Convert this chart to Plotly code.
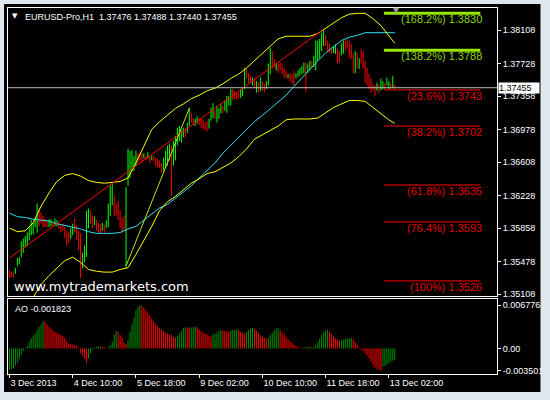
import plotly.graph_objects as go

# ---------------- data ----------------
title_text = "EURUSD-Pro,H1 \u00a01.37476 1.37488 1.37440 1.37455"
last_price = 1.37455

x_tick_idx = [0, 32, 64, 96, 128, 160, 192]
x_tick_labels = ["3 Dec 2013", "4 Dec 10:00", "5 Dec 18:00", "9 Dec 02:00",
                 "10 Dec 10:00", "11 Dec 18:00", "13 Dec 02:00"]

price_ticks = [1.38108, 1.37728, 1.37358, 1.36978, 1.36608,
               1.36228, 1.35858, 1.35478, 1.35108]

bar_high = [
    1.3538, 1.3536, 1.3537, 1.3541, 1.3552, 1.3553, 1.3571, 1.3574, 1.3577, 1.3581,
    1.3587, 1.3595, 1.3592, 1.3598, 1.3614, 1.3607, 1.3604, 1.3600, 1.3597, 1.3595,
    1.3596, 1.3596, 1.3592, 1.3597, 1.3595, 1.3592, 1.3589, 1.3591, 1.3587, 1.3583,
    1.3581, 1.3586, 1.3591, 1.3597, 1.3589, 1.3583, 1.3580, 1.3558, 1.3566, 1.3606,
    1.3608, 1.3606, 1.3600, 1.3599, 1.3595, 1.3592, 1.3591, 1.3592, 1.3590, 1.3595,
    1.3614, 1.3634, 1.3638, 1.3623, 1.3614, 1.3617, 1.3606, 1.3598, 1.3600, 1.3633,
    1.3676, 1.3674, 1.3674, 1.3668, 1.3674, 1.3671, 1.3671, 1.3671, 1.3671, 1.3668,
    1.3672, 1.3668, 1.3668, 1.3668, 1.3666, 1.3665, 1.3663, 1.3660, 1.3666, 1.3674,
    1.3680, 1.3682, 1.3680, 1.3685, 1.3691, 1.3700, 1.3702, 1.3697, 1.3700, 1.3700,
    1.3706, 1.3723, 1.3717, 1.3711, 1.3710, 1.3713, 1.3711, 1.3710, 1.3710, 1.3706,
    1.3708, 1.3710, 1.3723, 1.3728, 1.3720, 1.3725, 1.3722, 1.3727, 1.3725, 1.3731,
    1.3736, 1.3736, 1.3744, 1.3744, 1.3742, 1.3740, 1.3740, 1.3744, 1.3745, 1.3768,
    1.3767, 1.3762, 1.3759, 1.3757, 1.3756, 1.3753, 1.3751, 1.3757, 1.3753, 1.3750,
    1.3753, 1.3773, 1.3791, 1.3787, 1.3778, 1.3774, 1.3773, 1.3774, 1.3773, 1.3768,
    1.3765, 1.3761, 1.3762, 1.3761, 1.3765, 1.3762, 1.3765, 1.3768, 1.3770, 1.3774,
    1.3774, 1.3773, 1.3776, 1.3776, 1.3782, 1.3799, 1.3799, 1.3801, 1.3808, 1.3812,
    1.3805, 1.3799, 1.3795, 1.3791, 1.3793, 1.3795, 1.3790, 1.3787, 1.3796, 1.3799,
    1.3799, 1.3801, 1.3799, 1.3795, 1.3784, 1.3787, 1.3785, 1.3779, 1.3790, 1.3787,
    1.3776, 1.3768, 1.3761, 1.3756, 1.3750, 1.3748, 1.3751, 1.3749, 1.3756, 1.3753,
    1.3751, 1.3757, 1.3753, 1.3751, 1.3759, 1.37488,
]
bar_low = [
    1.3529, 1.3530, 1.3530, 1.3534, 1.3543, 1.3545, 1.3553, 1.3558, 1.3564, 1.3566,
    1.3572, 1.3578, 1.3579, 1.3587, 1.3581, 1.3588, 1.3591, 1.3587, 1.3587, 1.3587,
    1.3587, 1.3588, 1.3587, 1.3588, 1.3588, 1.3585, 1.3581, 1.3583, 1.3575, 1.3566,
    1.3569, 1.3574, 1.3578, 1.3581, 1.3572, 1.3561, 1.3529, 1.3540, 1.3547, 1.3553,
    1.3586, 1.3591, 1.3586, 1.3589, 1.3583, 1.3581, 1.3580, 1.3583, 1.3580, 1.3586,
    1.3587, 1.3600, 1.3612, 1.3600, 1.3600, 1.3595, 1.3586, 1.3580, 1.3583, 1.3541,
    1.3634, 1.3643, 1.3651, 1.3651, 1.3657, 1.3660, 1.3663, 1.3660, 1.3665, 1.3663,
    1.3665, 1.3660, 1.3663, 1.3662, 1.3657, 1.3655, 1.3654, 1.3649, 1.3651, 1.3654,
    1.3657, 1.3663, 1.3623, 1.3657, 1.3663, 1.3680, 1.3685, 1.3683, 1.3689, 1.3689,
    1.3694, 1.3702, 1.3706, 1.3703, 1.3702, 1.3705, 1.3703, 1.3700, 1.3699, 1.3697,
    1.3696, 1.3699, 1.3708, 1.3711, 1.3710, 1.3706, 1.3710, 1.3716, 1.3717, 1.3719,
    1.3717, 1.3725, 1.3725, 1.3731, 1.3733, 1.3733, 1.3733, 1.3734, 1.3736, 1.3744,
    1.3756, 1.3751, 1.3751, 1.3748, 1.3745, 1.3740, 1.3740, 1.3742, 1.3742, 1.3740,
    1.3744, 1.3748, 1.3761, 1.3767, 1.3768, 1.3765, 1.3762, 1.3765, 1.3761, 1.3757,
    1.3756, 1.3756, 1.3753, 1.3750, 1.3748, 1.3756, 1.3758, 1.3759, 1.3761, 1.3762,
    1.3740, 1.3762, 1.3765, 1.3768, 1.3769, 1.3765, 1.3776, 1.3779, 1.3787, 1.3793,
    1.3793, 1.3787, 1.3785, 1.3784, 1.3785, 1.3784, 1.3773, 1.3774, 1.3782, 1.3784,
    1.3787, 1.3791, 1.3779, 1.3778, 1.3762, 1.3762, 1.3767, 1.3767, 1.3773, 1.3767,
    1.3751, 1.3748, 1.3744, 1.3740, 1.3742, 1.3736, 1.3742, 1.3739, 1.3742, 1.3744,
    1.3744, 1.3748, 1.3744, 1.3744, 1.3745, 1.37440,
]
# g = bullish bar, r = bearish bar
bar_dir = list(
    "rrrggggggg" "gggggrrrrr" "ggrggrrrrr" "rggrrrrggg" "grrgrrrgrg"
    "gggrrrrrrg" "gggggrrrgr" "grgrrrrrgg" "ggrggggggr" "ggrrggrrrr"
    "rgggrgggrg" "gggrrrrggg" "rrrgrgrgrr" "gggrrgrrrr" "rgrrrggggg"
    "rggrgggggg" "rrrrggrrgg" "rrrrrgrgrr" "rrrrrrgrgg" "rggrgr"
)

# indicator lines, read every 4th bar
line_idx = list(range(0, 196, 4)) + [195]
bb_upper = [
    1.3586, 1.3582, 1.3583, 1.3592, 1.3611, 1.3626, 1.3639, 1.3646, 1.3648, 1.3645,
    1.3640, 1.3638, 1.3637, 1.3638, 1.3639, 1.3643, 1.3660, 1.3679, 1.3698, 1.3707,
    1.3715, 1.3722, 1.3727, 1.3733, 1.3737, 1.3742, 1.3745, 1.3750, 1.3756, 1.3761,
    1.3768, 1.3776, 1.3785, 1.3793, 1.3801, 1.3804, 1.3804, 1.3804, 1.3804, 1.3807,
    1.3813, 1.3820, 1.3825, 1.3829, 1.3830, 1.3830, 1.3824, 1.3816, 1.3805, 1.3796,
]
lower_idx = list(range(8, 196, 4)) + [195]
bb_lower = [
    1.3493, 1.3508, 1.3522, 1.3532, 1.3540, 1.3549, 1.3553, 1.3547, 1.3539, 1.3537,
    1.3536, 1.3536, 1.3539, 1.3541, 1.3556, 1.3572, 1.3588, 1.3606, 1.3616, 1.3622,
    1.3629, 1.3637, 1.3642, 1.3648, 1.3650, 1.3655, 1.3660, 1.3667, 1.3676, 1.3687,
    1.3692, 1.3697, 1.3702, 1.3709, 1.3710, 1.3710, 1.3710, 1.3711, 1.3717, 1.3723,
    1.3727, 1.3731, 1.3731, 1.3730, 1.3723, 1.3716, 1.3709, 1.3705,
]
ma_line = [
    1.3603, 1.3599, 1.3598, 1.3596, 1.3595, 1.3594, 1.3591, 1.3589, 1.3587, 1.3585,
    1.3582, 1.3580, 1.3580, 1.3580, 1.3581, 1.3585, 1.3588, 1.3595, 1.3603, 1.3609,
    1.3613, 1.3620, 1.3626, 1.3634, 1.3643, 1.3651, 1.3660, 1.3671, 1.3680, 1.3689,
    1.3698, 1.3707, 1.3714, 1.3722, 1.3730, 1.3737, 1.3747, 1.3757, 1.3767, 1.3776,
    1.3785, 1.3792, 1.3799, 1.3803, 1.3805, 1.3808, 1.3808, 1.3808, 1.3808, 1.3808,
]

# trend lines (bar index, price)
red_trend_idx = [0, 159]
red_trend_price = [1.3552, 1.3812]
lime_trend_idx = [59, 91]
lime_trend_price = [1.3543, 1.3722]

# Fibonacci levels
fib_pct = ["168.2%", "138.2%", "23.6%", "38.2%", "61.8%", "76.4%", "100%"]
fib_price = [1.3830, 1.3788, 1.3743, 1.3702, 1.3635, 1.3593, 1.3526]
fib_is_ext = [True, True, False, False, False, False, False]

# Awesome Oscillator
ao_value = [
    -0.00339, -0.00323, -0.00313, -0.00271, -0.00224, -0.00167, -0.00104, -0.00042, -0.00010, 0.00042,
    0.00104, 0.00156, 0.00198, 0.00234, 0.00287, 0.00339, 0.00375, 0.00427, 0.00417, 0.00375,
    0.00339, 0.00313, 0.00281, 0.00261, 0.00245, 0.00229, 0.00214, 0.00193, 0.00167, 0.00115,
    0.00078, 0.00068, 0.00063, 0.00052, 0.00042, 0.00010, -0.00078, -0.00115, -0.00167, -0.00234,
    -0.00156, -0.00078, -0.00026, 0.00016, 0.00026, 0.00036, 0.00026, 0.00021, 0.00016, 0.00010,
    0.00016, 0.00052, 0.00104, 0.00219, 0.00271, 0.00261, 0.00208, 0.00167, 0.00094, 0.00063,
    0.00130, 0.00261, 0.00391, 0.00479, 0.00599, 0.00651, 0.00677, 0.00662, 0.00641, 0.00604,
    0.00563, 0.00521, 0.00469, 0.00427, 0.00391, 0.00354, 0.00323, 0.00292, 0.00271, 0.00250,
    0.00234, 0.00224, 0.00208, 0.00182, 0.00167, 0.00198, 0.00234, 0.00271, 0.00323, 0.00333,
    0.00328, 0.00323, 0.00328, 0.00333, 0.00339, 0.00328, 0.00297, 0.00271, 0.00250, 0.00234,
    0.00219, 0.00198, 0.00182, 0.00219, 0.00229, 0.00245, 0.00271, 0.00287, 0.00281, 0.00271,
    0.00266, 0.00261, 0.00276, 0.00287, 0.00292, 0.00297, 0.00287, 0.00261, 0.00245, 0.00234,
    0.00261, 0.00292, 0.00313, 0.00318, 0.00307, 0.00276, 0.00234, 0.00208, 0.00182, 0.00167,
    0.00146, 0.00167, 0.00208, 0.00250, 0.00287, 0.00313, 0.00318, 0.00287, 0.00250, 0.00219,
    0.00182, 0.00146, 0.00115, 0.00089, 0.00063, 0.00042, 0.00021, 0.00010, 0.00005, 0.00016,
    0.00021, 0.00023, 0.00026, 0.00021, 0.00026, 0.00052, 0.00094, 0.00146, 0.00208, 0.00250,
    0.00281, 0.00292, 0.00261, 0.00219, 0.00188, 0.00156, 0.00135, 0.00120, 0.00125, 0.00135,
    0.00146, 0.00156, 0.00162, 0.00167, 0.00146, 0.00094, 0.00052, 0.00016, -0.00016, -0.00042,
    -0.00078, -0.00115, -0.00156, -0.00208, -0.00261, -0.00302, -0.00328, -0.00333, -0.003501, -0.00287,
    -0.00271, -0.00255, -0.00234, -0.00208, -0.00193, -0.001823,
]
ao_ticks = [0.006776, 0.0, -0.003501]
ao_tick_text = ["0.006776", "0.00", "-0.003501"]
ao_label = "AO -0.001823"
watermark = "www.mytrademarkets.com"

# ---------------- layout helpers ----------------
W, H = 550, 400
L, R, T, B = 7, 48, 7, 26
PW, PH = W - L - R, H - T - B


def px_x(px):
    return (px - L) / PW


def px_y(py):
    return (H - B - py) / PH


FONT = "Liberation Sans, Arial, sans-serif"
UP, DOWN = "#00ff00", "#ff0000"
AO_UP, AO_DOWN = "#009000", "#ff0000"
FIB_GREEN, FIB_RED = "#99e600", "#ff0000"

fig = go.Figure()

# price bars (high-low lines)
for d, col in (("g", UP), ("r", DOWN)):
    xs, ys = [], []
    for i, (hi, lo) in enumerate(zip(bar_high, bar_low)):
        if bar_dir[i] == d:
            xs += [i, i, None]
            ys += [lo, hi, None]
    fig.add_trace(go.Scatter(x=xs, y=ys, mode="lines", line=dict(color=col, width=1),
                             hoverinfo="skip", showlegend=False, xaxis="x", yaxis="y"))

# indicators
fig.add_trace(go.Scatter(x=line_idx, y=ma_line, mode="lines",
                         line=dict(color="#30e0f0", width=1), showlegend=False,
                         xaxis="x", yaxis="y"))
fig.add_trace(go.Scatter(x=line_idx, y=bb_upper, mode="lines",
                         line=dict(color="#ffff00", width=1), showlegend=False,
                         xaxis="x", yaxis="y"))
fig.add_trace(go.Scatter(x=lower_idx, y=bb_lower, mode="lines",
                         line=dict(color="#ffff00", width=1), showlegend=False,
                         xaxis="x", yaxis="y"))
fig.add_trace(go.Scatter(x=red_trend_idx, y=red_trend_price, mode="lines",
                         line=dict(color="#ff0000", width=1), showlegend=False,
                         xaxis="x", yaxis="y"))
fig.add_trace(go.Scatter(x=lime_trend_idx, y=lime_trend_price, mode="lines",
                         line=dict(color="#b5e61d", width=1), showlegend=False,
                         xaxis="x", yaxis="y"))

# AO histogram: 1-px columns, green when rising, red when falling
ao_up = []
state = True
for i, v in enumerate(ao_value):
    if i > 0 and v != ao_value[i - 1]:
        state = v > ao_value[i - 1]
    ao_up.append(state)
for flag, col in ((True, AO_UP), (False, AO_DOWN)):
    xs, ys = [], []
    for i, v in enumerate(ao_value):
        if ao_up[i] == flag:
            xs += [i, i, None]
            ys += [0, v, None]
    fig.add_trace(go.Scatter(x=xs, y=ys, mode="lines", line=dict(color=col, width=1),
                             hoverinfo="skip", showlegend=False, xaxis="x2", yaxis="y2"))

shapes = [
    dict(type="rect", xref="paper", yref="paper", x0=px_x(3), x1=px_x(546),
         y0=px_y(392), y1=px_y(3), fillcolor="black", line=dict(width=0), layer="below"),
    dict(type="line", xref="x", yref="y", x0=-0.75, x1=246.75, y0=last_price, y1=last_price,
         line=dict(color="#c0c0c0", width=1)),
]
FIB_X0, FIB_X1 = 189.5, 238.3
annotations = []
for pct, p, ext in zip(fib_pct, fib_price, fib_is_ext):
    col = FIB_GREEN if ext else FIB_RED
    shapes.append(dict(type="line", xref="x", yref="y", x0=FIB_X0, x1=FIB_X1, y0=p, y1=p,
                       line=dict(color=col, width=3 if ext else 1)))
    annotations.append(dict(xref="x", yref="y", x=FIB_X1, y=p, xanchor="right", yanchor="top",
                            text=f"({pct}) {p:.4f}", showarrow=False, yshift=2, xshift=4,
                            font=dict(family=FONT, size=11, color="#88d400" if ext else "#e00000")))

annotations += [
    dict(xref="paper", yref="paper", x=px_x(14), y=px_y(15.5), text="\u25bc", showarrow=False,
         xanchor="center", yanchor="middle", font=dict(family="DejaVu Sans", size=7, color="white")),
    dict(xref="paper", yref="paper", x=px_x(22), y=px_y(16.5), text=title_text, showarrow=False,
         xanchor="left", yanchor="middle", font=dict(family=FONT, size=9, color="white")),
    dict(xref="paper", yref="paper", x=px_x(400.5), y=px_y(10), text="\u25bc", showarrow=False,
         xanchor="center", yanchor="middle", font=dict(family="DejaVu Sans", size=8, color="#9a9a9a")),
    dict(xref="paper", yref="paper", x=px_x(11), y=px_y(286), text=watermark, showarrow=False,
         xanchor="left", yanchor="middle", font=dict(family="DejaVu Sans", size=13, color="white")),
    dict(xref="paper", yref="paper", x=px_x(12), y=px_y(309), text=ao_label, showarrow=False,
         xanchor="left", yanchor="middle", font=dict(family=FONT, size=9, color="white")),
    dict(xref="paper", yref="y", x=px_x(503), y=last_price, text=f"{last_price:.5f}", showarrow=False,
         xanchor="left", yanchor="middle", bgcolor="white", width=40, height=10, borderpad=0,
         align="left", font=dict(family=FONT, size=9, color="black")),
]

axis_common = dict(showgrid=False, zeroline=False, showline=True, linecolor="white",
                   linewidth=1, mirror=True)
fig.update_layout(
    width=W, height=H, margin=dict(l=L, r=R, t=T, b=B, pad=0),
    paper_bgcolor="#dfe6ee", plot_bgcolor="black", showlegend=False,
    xaxis=dict(domain=[0, 1], range=[-0.75, 246.75], anchor="y", showticklabels=False,
               ticks="", **axis_common),
    yaxis=dict(domain=[px_y(296), 1], range=[1.350863, 1.383607], side="right", anchor="x",
               tickvals=price_ticks, ticktext=[f"{v:.5f}" for v in price_ticks],
               ticks="outside", ticklen=3, tickcolor="white",
               tickfont=dict(family=FONT, size=9, color="white"), **axis_common),
    xaxis2=dict(domain=[0, 1], range=[-0.75, 246.75], anchor="y2", matches="x",
                tickvals=x_tick_idx, ticktext=x_tick_labels, ticks="outside", ticklen=3,
                tickcolor="white", ticklabelposition="outside right",
                tickfont=dict(family=FONT, size=9, color="white"), **axis_common),
    yaxis2=dict(domain=[0, px_y(299)], range=[-0.004012, 0.007711], side="right", anchor="x2",
                tickvals=ao_ticks, ticktext=ao_tick_text, ticks="outside", ticklen=3,
                tickcolor="white", tickfont=dict(family=FONT, size=9, color="white"),
                **axis_common),
    shapes=shapes, annotations=annotations,
)

fig.write_html(
    "out.html",
    config={"displayModeBar": False},
    post_script="document.body.style.margin='0';document.body.style.overflow='hidden';",
)
